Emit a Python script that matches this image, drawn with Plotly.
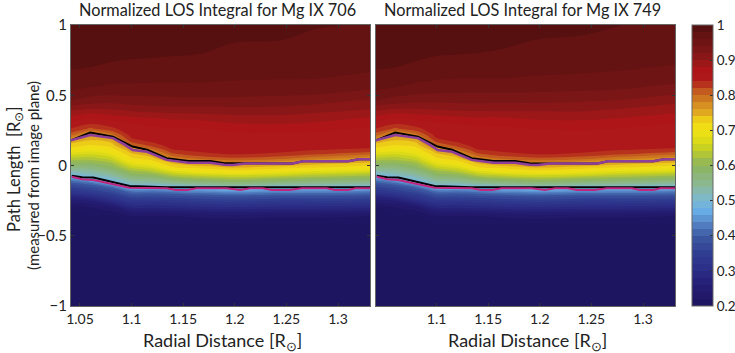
import numpy as np
import plotly.graph_objects as go
from plotly.subplots import make_subplots

FONT = "Lato"

radial = [1.04, 1.06, 1.08, 1.10, 1.12, 1.14, 1.16, 1.20, 1.24, 1.28, 1.335]
path = [-1, -.5, -.42, -.36, -.3, -.26, -.22, -.19, -.16, -.13, -.1, -.07, -.04, -.01, .02, .05, .08, .11,
        .14, .18, .22, .26, .3, .34, .38, .42, .46, .5, .56, .62, .7, .8, .9, 1]

# one list per radial position, read bottom to top
z_706 = [
    [.2, .2, .2, .2, .2, .24, .28, .32, .35, .385, .43, .486, .53, .567, .6, .635, .67, .705, .73, .76, .81, .84, .857, .875, .895, .917, .94, .953, .965, .973, .982, .987, .993, 1.0],
    [.2, .2, .2, .2, .22, .25, .3, .34, .37, .41, .47, .51, .54, .57, .6, .63, .66, .69, .715, .74, .767, .815, .843, .86, .887, .911, .929, .943, .961, .97, .98, .986, .992, .998],
    [.2, .2, .2, .2, .235, .285, .33, .365, .4, .46, .5, .535, .565, .595, .62, .65, .68, .705, .725, .75, .793, .833, .851, .87, .89, .91, .927, .94, .957, .966, .977, .985, .991, .996],
    [.2, .2, .2, .22, .28, .32, .37, .41, .47, .515, .55, .585, .615, .65, .685, .715, .735, .755, .793, .833, .851, .855, .86, .876, .897, .916, .929, .941, .956, .966, .975, .984, .99, .995],
    [.2, .2, .2, .22, .28, .32, .37, .41, .47, .52, .56, .595, .635, .67, .705, .733, .755, .793, .826, .848, .852, .856, .864, .88, .902, .918, .931, .942, .956, .964, .974, .983, .988, .992],
    [.2, .2, .2, .22, .285, .325, .375, .42, .48, .537, .583, .63, .675, .72, .745, .78, .815, .838, .851, .853, .855, .857, .868, .885, .904, .92, .932, .943, .956, .964, .972, .982, .986, .989],
    [.2, .2, .2, .225, .29, .33, .38, .43, .49, .55, .595, .645, .695, .73, .76, .8, .83, .845, .851, .853, .855, .858, .87, .886, .906, .92, .933, .944, .956, .964, .972, .981, .984, .987],
    [.2, .2, .2, .23, .295, .34, .385, .44, .5, .56, .61, .66, .71, .745, .78, .815, .84, .851, .852, .854, .857, .864, .88, .893, .907, .921, .933, .943, .954, .962, .969, .977, .981, .985],
    [.2, .2, .2, .225, .29, .33, .38, .43, .49, .55, .6, .65, .7, .735, .767, .807, .835, .848, .851, .853, .857, .867, .882, .894, .907, .92, .931, .941, .952, .961, .967, .974, .981, .983],
    [.2, .2, .2, .225, .29, .33, .38, .43, .49, .545, .59, .635, .68, .725, .75, .787, .82, .84, .851, .853, .857, .863, .877, .889, .902, .915, .927, .939, .95, .96, .965, .971, .977, .981],
    [.2, .2, .2, .22, .285, .325, .375, .42, .48, .535, .58, .62, .665, .71, .738, .767, .8, .833, .848, .851, .854, .857, .866, .878, .893, .905, .916, .928, .944, .955, .963, .97, .974, .979],
]

z_749 = [
    [.2, .2, .2, .2, .2, .24, .28, .32, .35, .385, .43, .486, .53, .567, .6, .635, .67, .705, .73, .76, .81, .84, .857, .875, .895, .917, .94, .953, .965, .973, .982, .987, .993, 1.0],
    [.2, .2, .2, .2, .22, .25, .3, .34, .37, .41, .47, .51, .54, .57, .6, .63, .66, .69, .715, .74, .767, .815, .843, .86, .887, .911, .929, .943, .961, .97, .98, .986, .992, .998],
    [.2, .2, .2, .2, .235, .285, .33, .365, .4, .46, .5, .535, .565, .595, .62, .65, .68, .705, .725, .75, .793, .833, .85, .868, .888, .908, .925, .938, .955, .965, .976, .985, .991, .996],
    [.2, .2, .2, .22, .28, .32, .37, .41, .47, .515, .55, .585, .615, .65, .685, .715, .735, .755, .793, .833, .851, .854, .858, .872, .892, .911, .924, .936, .951, .962, .972, .982, .989, .995],
    [.2, .2, .2, .22, .28, .32, .37, .41, .47, .52, .56, .595, .635, .67, .705, .733, .755, .793, .826, .848, .851, .854, .861, .875, .896, .912, .925, .936, .951, .96, .971, .981, .987, .992],
    [.2, .2, .2, .22, .285, .325, .375, .42, .48, .537, .583, .63, .675, .72, .745, .78, .815, .838, .851, .852, .854, .856, .863, .878, .897, .913, .925, .936, .95, .96, .969, .98, .985, .989],
    [.2, .2, .2, .225, .29, .33, .38, .43, .49, .55, .595, .645, .695, .73, .76, .8, .83, .845, .851, .852, .854, .856, .864, .878, .898, .912, .925, .936, .95, .96, .969, .979, .983, .987],
    [.2, .2, .2, .23, .295, .34, .385, .44, .5, .56, .61, .66, .71, .745, .78, .815, .84, .851, .851, .853, .855, .86, .871, .885, .898, .912, .924, .935, .948, .958, .966, .975, .98, .985],
    [.2, .2, .2, .225, .29, .33, .38, .43, .49, .55, .6, .65, .7, .735, .767, .807, .835, .848, .85, .852, .855, .862, .873, .885, .898, .911, .922, .933, .946, .957, .964, .972, .979, .983],
    [.2, .2, .2, .225, .29, .33, .38, .43, .49, .545, .59, .635, .68, .725, .75, .787, .82, .84, .85, .852, .855, .859, .868, .88, .892, .905, .918, .93, .944, .955, .962, .969, .975, .98],
    [.2, .2, .2, .22, .285, .325, .375, .42, .48, .535, .58, .62, .665, .71, .738, .767, .8, .833, .848, .85, .852, .855, .859, .867, .882, .894, .905, .917, .934, .948, .958, .967, .972, .977],
]

upper_x = [1.0413, 1.06, 1.082, 1.093, 1.101, 1.115, 1.134, 1.155, 1.176, 1.19, 1.198, 1.21, 1.256, 1.266, 1.31, 1.32, 1.331]
upper_purple = [.18, .217, .195, .15, .11, .098, .04, .02, .02, .005, .004, .015, .015, .03, .03, .045, .045]
upper_black = [.18, .235, .205, .165, .135, .112, .052, .032, .032, .016, .016, .015, .015, .03, .03, .045, .045]

lower_x = [1.042, 1.052, 1.063, 1.098, 1.134, 1.143, 1.154, 1.163, 1.192, 1.205, 1.215, 1.227, 1.236, 1.253, 1.265, 1.289, 1.297, 1.31, 1.317, 1.331]
lower_pink = [-.08, -.098, -.103, -.158, -.162, -.174, -.174, -.162, -.162, -.174, -.162, -.162, -.174, -.174, -.162, -.162, -.174, -.174, -.162, -.162]
lower_black = [-.072, -.084, -.086, -.146, -.155, -.155, -.155, -.155, -.155, -.155, -.155, -.155, -.155, -.155, -.155, -.155, -.155, -.155, -.155, -.155]

scale_pos = [.2, .25, .3, .35, .4, .44, .47, .5, .55, .6, .65, .68, .72, .75, .8, .82, .84, .87, .89, .91, .93, .95, .97, .99, 1]
scale_col = ["#1e1560", "#241c70", "#2c2c86", "#303e92", "#3c5aa2", "#5888c8", "#68ace6", "#7cb8d4", "#8cb890",
             "#8cb45c", "#c8d020", "#e8e014", "#f2dc16", "#e0a820", "#c86a20", "#be4a1e", "#ae1a1a", "#ad1519",
             "#9c1818", "#8a1718", "#7a1616", "#6e1414", "#641212", "#561010", "#541010"]
colorscale = [[(p - .2) / .8, c] for p, c in zip(scale_pos, scale_col)]

fig = make_subplots(rows=1, cols=2)

for col, table in [(1, z_706), (2, z_749)]:
    fig.add_trace(go.Contour(
        x=radial, y=path, z=np.array(table).T, zmin=.2, zmax=1, colorscale=colorscale,
        autocontour=False, contours=dict(start=.2, end=1, size=.02, coloring="fill", showlines=False),
        line_width=0, showscale=col == 2,
        colorbar=dict(x=692 / 735, xanchor="left", xpad=0, ypad=0, thickness=21, len=281 / 353,
                      y=47 / 353, yanchor="bottom", tick0=.2, dtick=.1, ticks="inside", ticklen=3,
                      tickcolor="#333", outlinecolor="#666", outlinewidth=1,
                      tickfont=dict(size=13.5, color="#222", family=FONT)),
    ), row=1, col=col)
    fig.add_trace(go.Scatter(x=upper_x, y=upper_black, mode="lines", line=dict(color="black", width=2)), row=1, col=col)
    fig.add_trace(go.Scatter(x=upper_x, y=upper_purple, mode="lines", line=dict(color="#8e3f9a", width=2.5)), row=1, col=col)
    fig.add_trace(go.Scatter(x=lower_x, y=lower_black, mode="lines", line=dict(color="black", width=2)), row=1, col=col)
    fig.add_trace(go.Scatter(x=lower_x, y=lower_pink, mode="lines", line=dict(color="#c0267e", width=2)), row=1, col=col)

fig.update_xaxes(range=[1.0413, 1.331], ticks="inside", ticklen=3, tickcolor="#333", mirror="allticks",
                 showline=True, linecolor="#666", showgrid=False, zeroline=False,
                 tickfont=dict(size=14, color="#222", family=FONT))
fig.update_yaxes(range=[-1, 1], tickvals=[-1, -.5, 0, .5, 1], ticks="inside", ticklen=3, tickcolor="#333",
                 mirror="allticks", showline=True, linecolor="#666", showgrid=False, zeroline=False,
                 tickfont=dict(size=15, color="#222", family=FONT))
fig.update_xaxes(tickvals=[1.05, 1.1, 1.15, 1.2, 1.25, 1.3], ticktext=["1.05", "1.1", "1.15", "1.2", "1.25", "1.3"], row=1, col=1)
fig.update_xaxes(tickvals=[1.1, 1.15, 1.2, 1.25, 1.3], ticktext=["1.1", "1.15", "1.2", "1.25", "1.3"], row=1, col=2)
fig.update_yaxes(showticklabels=False, row=1, col=2)

fig.update_layout(
    width=735, height=353, margin=dict(l=0, r=0, t=0, b=0, autoexpand=False), showlegend=False,
    paper_bgcolor="white", plot_bgcolor="white",
    xaxis=dict(domain=[71 / 735, 370 / 735]),
    xaxis2=dict(domain=[376 / 735, 675 / 735]),
    yaxis=dict(domain=[47 / 353, 328 / 353]),
    yaxis2=dict(domain=[47 / 353, 328 / 353]),
)


def label(text, x, y, size, angle=0):
    fig.add_annotation(text=text, xref="paper", yref="paper", x=x / 735, y=1 - y / 353, showarrow=False,
                       textangle=angle, font=dict(size=size, color="#222", family=FONT),
                       xanchor="center", yanchor="middle")


label("Normalized LOS Integral for Mg IX 706", 217, 9.5, 16.3)
label("Normalized LOS Integral for Mg IX 749", 522, 9.5, 16.3)
label("Radial Distance [R<sub>⊙</sub>]", 222, 341, 18)
label("Radial Distance [R<sub>⊙</sub>]", 527, 341, 18)
label("Path Length  [R<sub>⊙</sub>]", 14, 170, 16.5, -90)
label("(measured from image plane)", 33, 176, 15, -90)

fig.write_html("out.html", config=dict(displayModeBar=False), post_script="document.body.style.margin='0'")
